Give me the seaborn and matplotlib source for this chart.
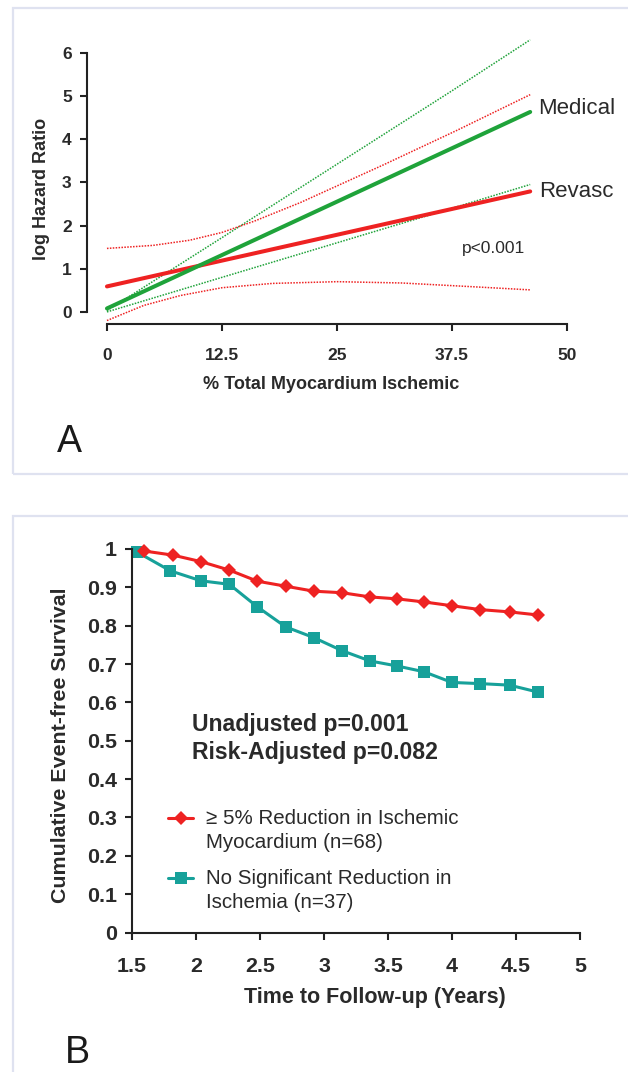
import matplotlib
matplotlib.use("Agg")
import matplotlib.pyplot as plt
import seaborn as sns
import numpy as np
import pandas as pd
from matplotlib.patches import Rectangle
from matplotlib.lines import Line2D

# ---------------- Panel A data ----------------
pct_fit = [0, 46]
medical_fit = [0.08, 4.63]
revasc_fit = [0.59, 2.79]

med_ci_x = [0, 12.5, 25, 37.5, 46]
med_ci_upper = [0.03, 1.72, 3.42, 5.12, 6.30]
med_ci_lower = [0.00, 0.80, 1.60, 2.40, 2.95]

rev_up_x = [0, 5, 9, 12.5, 16, 21, 30, 38, 46]
rev_ci_upper = [1.47, 1.54, 1.66, 1.84, 2.10, 2.53, 3.40, 4.20, 5.03]
rev_lo_x = [0, 4, 8, 12.5, 18, 25, 32, 40, 46]
rev_ci_lower = [-0.20, 0.15, 0.38, 0.56, 0.66, 0.70, 0.67, 0.58, 0.51]

a_xticks = [0, 12.5, 25, 37.5, 50]
a_xticklabels = ["0", "12.5", "25", "37.5", "50"]
a_yticks = [0, 1, 2, 3, 4, 5, 6]

# ---------------- Panel B data ----------------
years_red = [1.59, 1.82, 2.04, 2.26, 2.48, 2.70, 2.92, 3.14, 3.36, 3.57, 3.78, 4.00, 4.22, 4.45, 4.67]
surv_red = [0.995, 0.984, 0.967, 0.945, 0.916, 0.903, 0.890, 0.886, 0.875, 0.870, 0.862, 0.852, 0.842, 0.836, 0.828]
years_teal = [1.54, 1.80, 2.04, 2.26, 2.48, 2.70, 2.92, 3.14, 3.36, 3.57, 3.78, 4.00, 4.22, 4.45, 4.67]
surv_teal = [0.992, 0.943, 0.917, 0.908, 0.849, 0.797, 0.769, 0.735, 0.708, 0.695, 0.680, 0.652, 0.649, 0.645, 0.627]

b_xticks = [1.5, 2, 2.5, 3, 3.5, 4, 4.5, 5]
b_xticklabels = ["1.5", "2", "2.5", "3", "3.5", "4", "4.5", "5"]
b_yticks = [0, 0.1, 0.2, 0.3, 0.4, 0.5, 0.6, 0.7, 0.8, 0.9, 1.0]
b_yticklabels = ["0", "0.1", "0.2", "0.3", "0.4", "0.5", "0.6", "0.7", "0.8", "0.9", "1"]

label_red = ["\u2265 5% Reduction in Ischemic", "Myocardium (n=68)"]
label_teal = ["No Significant Reduction in", "Ischemia (n=37)"]

GREEN = "#1fa33a"
RED = "#ee2222"
TEAL = "#17a19a"
DARK = "#222222"
TXT = "#2a2a2a"
BOX = "#dfe2f0"

sns.set_style("white")
plt.rcParams["font.family"] = ["Liberation Sans", "DejaVu Sans"]

W, H = 628, 1072
fig = plt.figure(figsize=(W / 100, H / 100), dpi=100)

def fx(px):
    return px / W

def fy(py):
    return 1 - py / H

# panel frames
fig.patches.append(Rectangle((fx(13), fy(474)), fx(700), fy(8) - fy(474),
                             transform=fig.transFigure, fill=False,
                             edgecolor=BOX, lw=1.6, zorder=0))
fig.patches.append(Rectangle((fx(13), fy(1100)), fx(700), fy(516) - fy(1100),
                             transform=fig.transFigure, fill=False,
                             edgecolor=BOX, lw=1.6, zorder=0))

# ---------------- Panel A ----------------
axA = fig.add_axes([fx(87), fy(324), fx(571.6) - fx(87), fy(35.5) - fy(324)])
axA.set_facecolor("none")
dot = (0, (1, 0.9))
sns.lineplot(x=med_ci_x, y=med_ci_upper, ax=axA, color=GREEN, lw=1.1, linestyle=dot)
sns.lineplot(x=med_ci_x, y=med_ci_lower, ax=axA, color=GREEN, lw=1.1, linestyle=dot)
sns.lineplot(x=rev_up_x, y=rev_ci_upper, ax=axA, color=RED, lw=1.1, linestyle=dot)
sns.lineplot(x=rev_lo_x, y=rev_ci_lower, ax=axA, color=RED, lw=1.1, linestyle=dot)
sns.lineplot(x=pct_fit, y=revasc_fit, ax=axA, color=RED, lw=2.9)
sns.lineplot(x=pct_fit, y=medical_fit, ax=axA, color=GREEN, lw=2.9)

axA.set_xlim(-2.17, 50.5)
axA.set_ylim(-0.28, 6.4)
axA.set_xticks(a_xticks)
axA.set_xticklabels(a_xticklabels)
axA.set_yticks(a_yticks)
sns.despine(ax=axA)
axA.spines["left"].set_bounds(0, 6)
axA.spines["bottom"].set_bounds(0, 50)
for s in ("left", "bottom"):
    axA.spines[s].set_linewidth(1.5)
    axA.spines[s].set_color(DARK)
axA.tick_params(axis="both", which="major", direction="out", length=5, width=1.5, color=DARK,
                labelsize=12.5, labelcolor=TXT, bottom=True, left=True)
axA.tick_params(axis="x", pad=12)
axA.tick_params(axis="y", pad=6)
for lab in axA.get_xticklabels() + axA.get_yticklabels():
    lab.set_fontweight("bold")
axA.set_xlabel("")
axA.set_ylabel("")

fig.text(fx(331), fy(385), "% Total Myocardium Ischemic", ha="center", va="center",
         fontsize=13, fontweight="bold", color=TXT)
fig.text(fx(42), fy(189), "log Hazard Ratio", ha="center", va="center",
         rotation=90, fontsize=13, fontweight="bold", color=TXT)
fig.text(fx(538), fy(108), "Medical", ha="left", va="center", fontsize=16, color=TXT)
fig.text(fx(539), fy(191), "Revasc", ha="left", va="center", fontsize=16, color=TXT)
fig.text(fx(462), fy(248), "p<0.001", ha="left", va="center", fontsize=12.5, color=TXT)
fig.text(fx(57), fy(442), "A", ha="left", va="center", fontsize=27, color="#1a1a1a")

# ---------------- Panel B ----------------
axB = fig.add_axes([fx(132), fy(932.5), fx(580) - fx(132), fy(549) - fy(932.5)])
axB.set_facecolor("none")
sns.lineplot(x=years_teal, y=surv_teal, ax=axB, color=TEAL, lw=2.2, marker="s",
             markersize=8, markeredgewidth=0, clip_on=False)
sns.lineplot(x=years_red, y=surv_red, ax=axB, color=RED, lw=2.2, marker="D",
             markersize=7.5, markeredgewidth=0, clip_on=False)
axB.set_xlim(1.5, 5)
axB.set_ylim(0, 1)
axB.set_xticks(b_xticks)
axB.set_xticklabels(b_xticklabels)
axB.set_yticks(b_yticks)
axB.set_yticklabels(b_yticklabels)
sns.despine(ax=axB)
for s in ("left", "bottom"):
    axB.spines[s].set_linewidth(1.5)
    axB.spines[s].set_color(DARK)
axB.tick_params(axis="both", which="major", direction="out", length=5, width=1.5, color=DARK,
                labelsize=15.4, labelcolor=TXT, bottom=True, left=True)
axB.tick_params(axis="x", pad=13)
axB.tick_params(axis="y", pad=6)
for lab in axB.get_xticklabels() + axB.get_yticklabels():
    lab.set_fontweight("bold")
axB.set_xlabel("")
axB.set_ylabel("")

fig.text(fx(375), fy(997), "Time to Follow-up (Years)", ha="center", va="center",
         fontsize=15.5, fontweight="bold", color=TXT)
fig.text(fx(60), fy(745), "Cumulative Event-free Survival", ha="center", va="center",
         rotation=90, fontsize=15.4, fontweight="bold", color=TXT)
fig.text(fx(192), fy(725), "Unadjusted p=0.001", ha="left", va="center",
         fontsize=16.6, fontweight="bold", color=TXT)
fig.text(fx(192), fy(753), "Risk-Adjusted p=0.082", ha="left", va="center",
         fontsize=16.6, fontweight="bold", color=TXT)

# legend keys (manual, to keep the marker aligned with the first text line)
for (py1, col, mk, ms, labels) in [(818, RED, "D", 7.5, label_red),
                                    (878, TEAL, "s", 8, label_teal)]:
    fig.add_artist(Line2D([fx(168), fx(193)], [fy(py1), fy(py1)], transform=fig.transFigure,
                          color=col, lw=2.2))
    fig.add_artist(Line2D([fx(180.5)], [fy(py1)], transform=fig.transFigure,
                          color=col, marker=mk, markersize=ms, markeredgewidth=0))
    fig.text(fx(206), fy(py1), labels[0], ha="left", va="center", fontsize=14.8, color=TXT)
    fig.text(fx(206), fy(py1 + 25), labels[1], ha="left", va="center", fontsize=14.8, color=TXT)

fig.text(fx(65), fy(1053), "B", ha="left", va="center", fontsize=27, color="#1a1a1a")

fig.savefig("out.png", dpi=100, facecolor="white")
